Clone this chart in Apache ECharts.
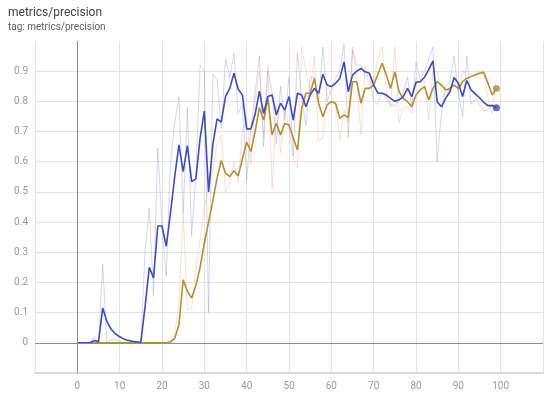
<!DOCTYPE html>
<html>
<head>
<meta charset="utf-8">
<script src="https://cdn.jsdelivr.net/npm/echarts@6/dist/echarts.min.js"></script>
<style>
  html, body { margin: 0; padding: 0; background: #fff; }
  #chart { width: 550px; height: 402px; }
</style>
</head>
<body>
<div id="chart"></div>
<script>
  // values, one entry per step (0..99)
  var blueSmooth = [
    0, 0, 0, 0, 0.008, 0.004, 0.115, 0.07, 0.045, 0.03,
    0.02, 0.013, 0.008, 0.005, 0.003, 0.002, 0.12, 0.25, 0.215, 0.387,
    0.387, 0.32, 0.43, 0.55, 0.656, 0.567, 0.653, 0.534, 0.543, 0.678,
    0.768, 0.50, 0.656, 0.742, 0.731, 0.816, 0.843, 0.893, 0.84, 0.821,
    0.709, 0.709, 0.757, 0.834, 0.76, 0.816, 0.821, 0.755, 0.794, 0.771,
    0.816, 0.738, 0.827, 0.821, 0.782, 0.821, 0.843, 0.827, 0.89, 0.854,
    0.849, 0.86, 0.876, 0.931, 0.832, 0.887, 0.90, 0.909, 0.898, 0.893,
    0.854, 0.827, 0.827, 0.821, 0.81, 0.80, 0.805, 0.816, 0.843, 0.816,
    0.863, 0.865, 0.88, 0.905, 0.934, 0.799, 0.782, 0.81, 0.832, 0.879,
    0.86, 0.816, 0.869, 0.838, 0.825, 0.812, 0.797, 0.786, 0.786, 0.779
  ];
  var blueRaw = [
    0, 0, 0, 0, 0.02, 0, 0.26, 0, 0.01, 0.01,
    0.005, 0, 0, 0, 0, 0, 0.30, 0.445, 0.16, 0.645,
    0.387, 0.22, 0.595, 0.73, 0.815, 0.43, 0.78, 0.355, 0.556, 0.92,
    0.90, 0.10, 0.89, 0.87, 0.71, 0.94, 0.88, 0.96, 0.76, 0.79,
    0.54, 0.71, 0.83, 0.95, 0.65, 0.90, 0.83, 0.66, 0.85, 0.74,
    0.88, 0.62, 0.96, 0.81, 0.72, 0.88, 0.88, 0.80, 0.98, 0.80,
    0.84, 0.88, 0.90, 0.99, 0.68, 0.97, 0.92, 0.92, 0.88, 0.89,
    0.80, 0.79, 0.83, 0.81, 0.79, 0.785, 0.81, 0.83, 0.88, 0.78,
    0.93, 0.87, 0.90, 0.94, 0.98, 0.60, 0.76, 0.85, 0.865, 0.95,
    0.83, 0.75, 0.95, 0.79, 0.81, 0.79, 0.77, 0.77, 0.79, 0.77
  ];
  var orangeSmooth = [
    0, 0, 0, 0, 0, 0, 0, 0, 0, 0,
    0, 0, 0, 0, 0, 0, 0, 0, 0, 0,
    0, 0, 0.003, 0.015, 0.06, 0.209, 0.17, 0.148, 0.19, 0.25,
    0.33, 0.40, 0.47, 0.545, 0.604, 0.562, 0.551, 0.57, 0.553, 0.61,
    0.665, 0.634, 0.70, 0.779, 0.738, 0.81, 0.689, 0.727, 0.689, 0.727,
    0.722, 0.678, 0.639, 0.777, 0.827, 0.827, 0.876, 0.794, 0.749, 0.788,
    0.799, 0.794, 0.744, 0.755, 0.746, 0.865, 0.865, 0.794, 0.843, 0.843,
    0.854, 0.89, 0.926, 0.887, 0.843, 0.898, 0.832, 0.81, 0.799, 0.782,
    0.821, 0.838, 0.849, 0.805, 0.843, 0.865, 0.854, 0.838, 0.843, 0.854,
    0.843, 0.865, 0.876, 0.882, 0.887, 0.893, 0.896, 0.86, 0.821, 0.843
  ];
  var orangeRaw = [
    0, 0, 0, 0, 0, 0, 0, 0, 0, 0,
    0, 0, 0, 0, 0, 0, 0, 0, 0, 0,
    0, 0, 0.008, 0.03, 0.13, 0.43, 0.11, 0.115, 0.25, 0.34,
    0.45, 0.505, 0.575, 0.66, 0.69, 0.50, 0.53, 0.60, 0.53, 0.70,
    0.75, 0.59, 0.80, 0.90, 0.68, 0.92, 0.51, 0.78, 0.63, 0.78,
    0.71, 0.61, 0.58, 0.98, 0.90, 0.83, 0.95, 0.67, 0.68, 0.85,
    0.82, 0.79, 0.67, 0.77, 0.73, 0.98, 0.865, 0.69, 0.92, 0.84,
    0.87, 0.94, 0.98, 0.83, 0.78, 0.98, 0.73, 0.78, 0.78, 0.76,
    0.88, 0.86, 0.87, 0.74, 0.90, 0.90, 0.84, 0.81, 0.85, 0.87,
    0.83, 0.90, 0.89, 0.89, 0.89, 0.90, 0.90, 0.81, 0.76, 0.88
  ];

  var blue = '#3f4db8';
  var orange = '#b38e3b';
  var blueFaint = '#6f7ccc';
  var orangeFaint = '#e59a74';
  var font = "Roboto, sans-serif";

  function pairs(arr) {
    return arr.map(function (v, i) { return [i, v]; });
  }
  function lastPoint(arr) {
    return [[arr.length - 1, arr[arr.length - 1]]];
  }

  var chart = echarts.init(document.getElementById('chart'), null, {renderer: 'canvas'});

  var option = {
    animation: false,
    title: {
      text: 'metrics/precision',
      subtext: 'tag: metrics/precision',
      left: 3,
      top: 2,
      itemGap: 3,
      textStyle: {fontSize: 12, fontWeight: 'normal', color: '#424242', fontFamily: font},
      subtextStyle: {fontSize: 10, color: '#616161', fontFamily: font}
    },
    grid: {left: 35, right: 7, top: 41, bottom: 29, containLabel: false},
    xAxis: {
      type: 'value',
      min: -10,
      max: 110,
      interval: 10,
      axisLine: {show: true, onZero: false, lineStyle: {color: '#d0d0d0', width: 1.5}},
      axisTick: {show: false},
      axisLabel: {
        showMinLabel: false,
        showMaxLabel: false,
        color: '#9a9a9a',
        fontSize: 10,
        fontFamily: font,
        margin: 8
      },
      splitLine: {show: true, lineStyle: {color: '#e4e4e4'}}
    },
    yAxis: {
      type: 'value',
      min: -0.1,
      max: 1.0,
      interval: 0.1,
      axisLine: {show: false},
      axisTick: {show: false},
      axisLabel: {
        showMinLabel: false,
        showMaxLabel: false,
        color: '#9a9a9a',
        fontSize: 10,
        fontFamily: font,
        margin: 7,
        formatter: function (v) { return String(Math.round(v * 10) / 10); }
      },
      splitLine: {show: true, showMaxLine: false, lineStyle: {color: '#e4e4e4'}}
    },
    series: [
      {
        type: 'line',
        data: pairs(orangeRaw),
        showSymbol: false,
        lineStyle: {color: orangeFaint, width: 1, opacity: 0.3},
        z: 1,
        markLine: {
          silent: true,
          symbol: 'none',
          label: {show: false},
          lineStyle: {color: '#8e8e8e', width: 1, type: 'solid'},
          data: [{xAxis: 0}, {yAxis: 0}]
        }
      },
      {
        type: 'line',
        data: pairs(blueRaw),
        showSymbol: false,
        lineStyle: {color: blueFaint, width: 1, opacity: 0.3},
        z: 1
      },
      {
        type: 'line',
        data: pairs(orangeSmooth),
        showSymbol: false,
        lineStyle: {color: orange, width: 1.6},
        z: 3
      },
      {
        type: 'line',
        data: pairs(blueSmooth),
        showSymbol: false,
        lineStyle: {color: blue, width: 1.6},
        z: 4
      },
      {
        type: 'scatter',
        data: lastPoint(orangeSmooth),
        symbolSize: 7,
        itemStyle: {color: orange},
        z: 5
      },
      {
        type: 'scatter',
        data: lastPoint(blueSmooth),
        symbolSize: 7,
        itemStyle: {color: blue},
        z: 5
      }
    ]
  };

  chart.setOption(option);
</script>
</body>
</html>
